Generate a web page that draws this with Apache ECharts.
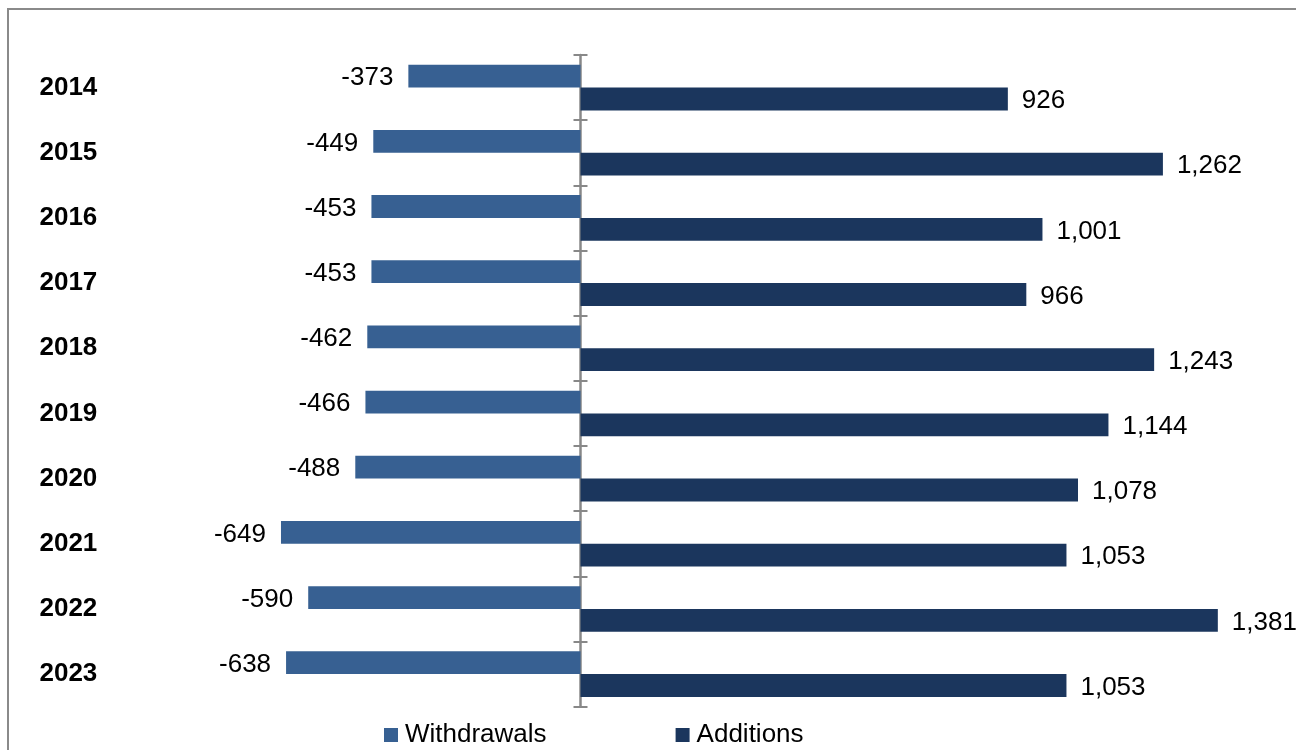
<!DOCTYPE html>
<html>
<head>
<meta charset="utf-8">
<script src="https://cdn.jsdelivr.net/npm/echarts@6/dist/echarts.min.js"></script>
<style>
  html, body { margin: 0; padding: 0; background: #ffffff; }
  #chart { width: 1296px; height: 750px; }
</style>
</head>
<body>
<div id="chart"></div>
<script>
const years = ['2014', '2015', '2016', '2017', '2018', '2019', '2020', '2021', '2022', '2023'];
const withdrawals = [-373, -449, -453, -453, -462, -466, -488, -649, -590, -638];
const additions = [926, 1262, 1001, 966, 1243, 1144, 1078, 1053, 1381, 1053];
const seriesNames = ['Withdrawals', 'Additions'];

const FONT = '"Liberation Sans", Arial, sans-serif';
const chart = echarts.init(document.getElementById('chart'), null, { renderer: 'canvas' });

const fmt = v => {
  const n = Math.abs(v).toLocaleString('en-US');
  return v < 0 ? '-' + n : n;
};

const catAxisBase = {
  type: 'category',
  data: years,
  inverse: true,
  gridIndex: 0,
  boundaryGap: true
};

chart.setOption({
  animation: false,
  backgroundColor: '#ffffff',
  textStyle: { fontFamily: FONT },
  graphic: [{
    type: 'rect',
    shape: { x: 8, y: 9, width: 1400, height: 900 },
    style: { fill: 'none', stroke: '#8a8a8a', lineWidth: 2 },
    silent: true,
    z: -10
  }],
  grid: { left: 211.3, right: 69.4, top: 55, bottom: 43.3, containLabel: false },
  legend: {
    data: seriesNames,
    left: 379,
    top: 717,
    icon: 'rect',
    itemWidth: 14,
    itemHeight: 14,
    itemGap: 129,
    textStyle: { fontSize: 26, color: '#000000', fontFamily: FONT, padding: [0, 0, 0, 2] }
  },
  xAxis: [
    { type: 'value', min: -800, max: 1400, show: false, gridIndex: 0 },
    { type: 'value', min: -800, max: 1400, show: false, gridIndex: 0 }
  ],
  yAxis: [
    Object.assign({}, catAxisBase, {
      position: 'left',
      axisLine: { show: false, onZero: false },
      axisTick: { show: false },
      axisLabel: {
        margin: 114,
        fontSize: 26,
        fontWeight: 'bold',
        color: '#000000',
        fontFamily: FONT,
        padding: [2, 0, 0, 0]
      }
    }),
    Object.assign({}, catAxisBase, {
      position: 'left',
      axisLine: { show: true, onZero: true, lineStyle: { color: '#888888', width: 2.5 } },
      axisTick: { show: true, length: 7, inside: false, lineStyle: { color: '#888888', width: 2 } },
      axisLabel: { show: false }
    }),
    Object.assign({}, catAxisBase, {
      position: 'left',
      axisLine: { show: false, onZero: true, onZeroAxisIndex: 1 },
      axisTick: { show: true, length: 7, inside: true, lineStyle: { color: '#888888', width: 2 } },
      axisLabel: { show: false }
    })
  ],
  series: [
    {
      name: seriesNames[0],
      type: 'bar',
      xAxisIndex: 0,
      yAxisIndex: 0,
      data: withdrawals,
      barGap: '0%',
      barCategoryGap: '30%',
      itemStyle: { color: '#376092' },
      label: {
        show: true,
        position: 'left',
        distance: 15,
        offset: [0, 2],
        fontSize: 26,
        color: '#000000',
        fontFamily: FONT,
        formatter: p => fmt(p.value)
      }
    },
    {
      name: seriesNames[1],
      type: 'bar',
      xAxisIndex: 0,
      yAxisIndex: 0,
      data: additions,
      barGap: '0%',
      barCategoryGap: '30%',
      itemStyle: { color: '#1b365d' },
      label: {
        show: true,
        position: 'right',
        distance: 14,
        offset: [0, 2],
        fontSize: 26,
        color: '#000000',
        fontFamily: FONT,
        formatter: p => fmt(p.value)
      }
    }
  ]
});
</script>
</body>
</html>
